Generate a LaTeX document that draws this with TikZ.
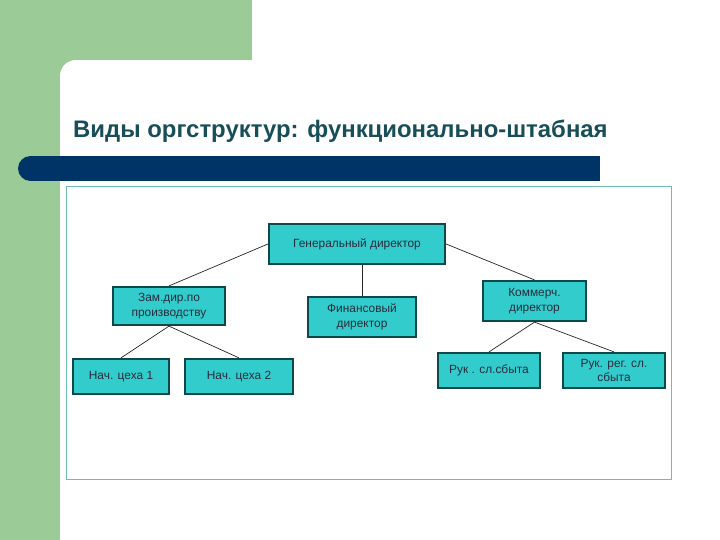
\documentclass[tikz,border=0pt]{standalone}
\usepackage{fontspec}
\setmainfont{Liberation Sans}
\definecolor{sidegreen}{RGB}{155,203,150}
\definecolor{barblue}{RGB}{0,51,102}
\definecolor{titlecol}{RGB}{24,78,88}
\definecolor{boxfill}{RGB}{51,204,204}
\definecolor{boxline}{RGB}{14,72,72}
\definecolor{boxtext}{RGB}{40,44,60}
\definecolor{framecol}{RGB}{110,190,180}
\begin{document}
\begin{tikzpicture}[x=1pt,y=-1pt,
  orgbox/.style={draw=boxline, fill=boxfill, line width=2.2pt, inner sep=0pt,
    align=center, text=boxtext, font=\fontsize{11.9}{14.5}\selectfont},
  conn/.style={draw=black!85, line width=0.7pt}]
\useasboundingbox (0,0) rectangle (720,540);
\fill[white] (0,0) rectangle (720,540);
\fill[sidegreen] (0,0) rectangle (252,60);
\fill[sidegreen] (0,0) rectangle (60,540);
\fill[sidegreen] (60,60) rectangle (76,76);
\fill[white] (76,76) circle[radius=16pt];
\fill[white] (76,60) rectangle (100,100);
\fill[white] (60,76) rectangle (100,100);
\node[anchor=base west, inner sep=0pt, text=titlecol, font=\bfseries\fontsize{23.9}{28}\selectfont] (title) at (73,138) {Виды оргструктур: функционально-штабная};
\fill[barblue] (30.5,156) rectangle (600,181);
\fill[barblue] (30.5,168.5) circle[radius=12.5pt];
\draw[framecol, line width=0.8pt] (66,186) rectangle (671,479);
\node[orgbox, minimum width=176pt, minimum height=40pt] (gen) at (357,244) {Генеральный директор};
\node[orgbox, minimum width=112pt, minimum height=38pt] (zam) at (169,306) {Зам.дир.по\\производству};
\node[orgbox, minimum width=108pt, minimum height=40pt] (fin) at (362,317) {Финансовый\\директор};
\node[orgbox, minimum width=103pt, minimum height=40pt] (kom) at (534.5,301) {Коммерч.\\директор};
\node[orgbox, minimum width=96pt, minimum height=35pt] (n1) at (121,376.5) {Нач. цеха 1};
\node[orgbox, minimum width=108pt, minimum height=35pt] (n2) at (239,376.5) {Нач. цеха 2};
\node[orgbox, minimum width=102pt, minimum height=35pt] (r1) at (489,370.5) {Рук . сл.сбыта};
\node[orgbox, minimum width=102pt, minimum height=35pt] (r2) at (614,370.5) {Рук. рег. сл.\\сбыта};
\draw[conn] (gen.west) -- (zam.north);
\draw[conn] (gen.east) -- (kom.north);
\draw[conn] (gen.south -| fin.north) -- (fin.north);
\draw[conn] (zam.south) -- (n1.north);
\draw[conn] (zam.south) -- (n2.north);
\draw[conn] (kom.south) -- (r1.north);
\draw[conn] (kom.south) -- (r2.north);
\end{tikzpicture}
\end{document}
